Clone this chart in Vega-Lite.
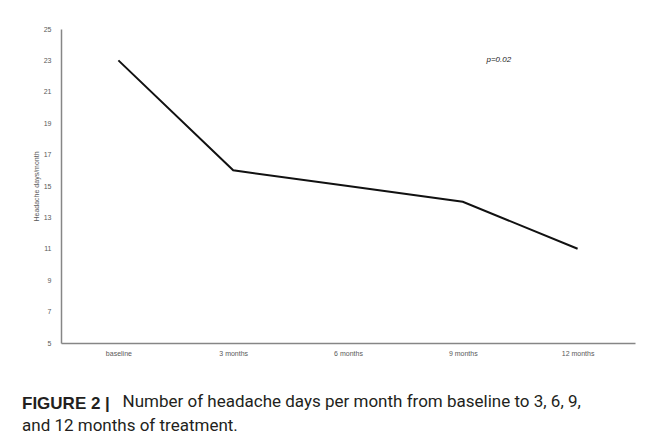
{
  "$schema": "https://vega.github.io/schema/vega-lite/v6.json",
  "autosize": {"type": "none"},
  "width": 574,
  "height": 314,
  "padding": {"left": 61, "top": 29, "right": 20, "bottom": 96},
  "background": "white",
  "config": {"view": {"stroke": null}},
  "data": {"values": [
    {"time": "baseline", "days": 23},
    {"time": "3 months", "days": 16},
    {"time": "6 months", "days": 15},
    {"time": "9 months", "days": 14},
    {"time": "12 months", "days": 11}
  ]},
  "title": {
    "text": "FIGURE 2 |",
    "subtitle": "and 12 months of treatment.",
    "orient": "bottom",
    "anchor": "start",
    "frame": "group",
    "dx": -39,
    "offset": -13,
    "font": "Liberation Sans",
    "fontSize": 17,
    "fontWeight": "bold",
    "color": "#231f20",
    "subtitleFont": "Roboto",
    "subtitleFontSize": 17,
    "subtitleFontWeight": "normal",
    "subtitleColor": "#231f20",
    "subtitlePadding": 5
  },
  "encoding": {
    "x": {
      "field": "time", "type": "ordinal",
      "scale": {"type": "point", "padding": 0.5, "domain": ["baseline", "3 months", "6 months", "9 months", "12 months"]},
      "axis": {
        "title": "Number of headache days per month from baseline to 3, 6, 9,",
        "titleX": 61, "titleY": 63, "titleAlign": "left", "titleAnchor": null,
        "titleBaseline": "alphabetic",
        "titleFont": "Roboto", "titleFontSize": 17, "titleFontWeight": "normal", "titleColor": "#231f20",
        "labelAngle": 0, "labelFont": "Liberation Sans", "labelFontSize": 7, "labelColor": "#595959",
        "labelPadding": 6, "ticks": false, "domainColor": "#868686", "domainWidth": 1.5, "grid": false
      }
    },
    "y": {
      "field": "days", "type": "quantitative",
      "scale": {"domain": [5, 25], "nice": false, "zero": false},
      "axis": {
        "title": "Headache days/month", "titleFont": "Liberation Sans", "titleFontSize": 7,
        "titleFontWeight": "normal", "titleColor": "#595959", "titlePadding": 4,
        "values": [5, 7, 9, 11, 13, 15, 17, 19, 21, 23, 25], "labelOverlap": false,
        "labelFont": "Liberation Sans", "labelFontSize": 7, "labelColor": "#595959",
        "labelPadding": 10, "ticks": false, "domainColor": "#868686", "domainWidth": 1.5, "grid": false
      }
    }
  },
  "layer": [
    {
      "mark": {"type": "line", "color": "#111111", "strokeWidth": 2}
    },
    {
      "data": {"values": [{"time": "9 months", "days": 23, "label": "p=0.02"}]},
      "mark": {"type": "text", "font": "Liberation Sans", "fontSize": 8, "fontStyle": "italic", "color": "#222222", "dx": 36},
      "encoding": {
        "text": {"field": "label"}
      }
    }
  ]
}
